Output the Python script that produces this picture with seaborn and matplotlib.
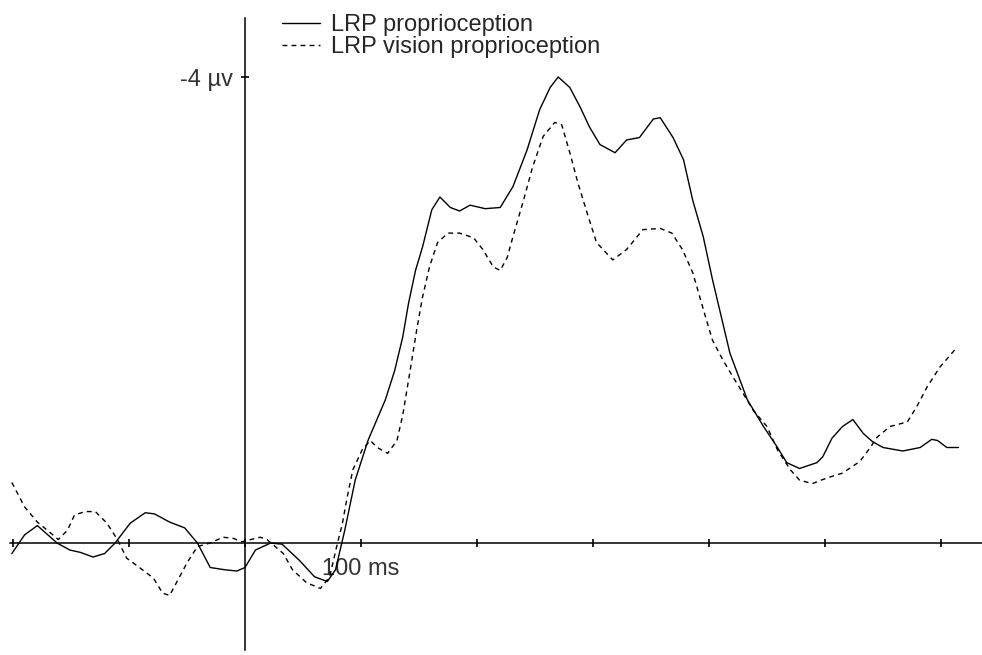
import matplotlib
matplotlib.use('Agg')
import matplotlib.pyplot as plt
import seaborn as sns
import pandas as pd

sns.set_style('white')
plt.rcParams['font.family'] = ['Liberation Sans', 'DejaVu Sans']

# time (ms) and amplitude (µV, negative up)
t_prop = [-201, -190, -179, -162, -151, -142, -131, -121, -112, -99, -86, -78,
          -65, -52, -41, -30, -17, -7, 0, 9, 22, 32, 47, 60, 71, 78, 86, 95,
          106, 121, 129, 136, 141, 147, 153, 161, 168, 177, 185, 194, 207, 220,
          231, 243, 254, 263, 270, 280, 289, 297, 306, 319, 329, 340, 352, 358,
          369, 378, 386, 395, 403, 418, 433, 447, 459, 467, 478, 493, 498, 506,
          515, 524, 533, 541, 550, 567, 582, 592, 597, 605, 615]
v_prop = [0.09, -0.07, -0.15, 0.0, 0.06, 0.08, 0.12, 0.09, 0.0, -0.17, -0.26,
          -0.25, -0.18, -0.13, 0.0, 0.21, 0.23, 0.24, 0.21, 0.06, 0.0, 0.01,
          0.15, 0.29, 0.33, 0.23, -0.11, -0.54, -0.88, -1.23, -1.48, -1.77,
          -2.06, -2.34, -2.54, -2.86, -2.97, -2.88, -2.85, -2.90, -2.87, -2.88,
          -3.06, -3.37, -3.72, -3.91, -4.00, -3.91, -3.74, -3.57, -3.42, -3.35,
          -3.46, -3.48, -3.64, -3.65, -3.48, -3.29, -2.94, -2.63, -2.26, -1.63,
          -1.23, -1.00, -0.82, -0.69, -0.64, -0.69, -0.74, -0.90, -1.00, -1.06,
          -0.94, -0.87, -0.82, -0.79, -0.82, -0.89, -0.88, -0.82, -0.82]

t_vis = [-201, -190, -179, -168, -161, -153, -147, -138, -129, -119, -110,
         -102, -91, -79, -71, -65, -58, -50, -41, -30, -19, -10, -3, 13, 19,
         33, 41, 53, 65, 73, 79, 84, 88, 93, 101, 108, 114, 123, 131, 136, 142,
         148, 153, 159, 166, 175, 185, 197, 205, 214, 220, 226, 231, 240, 248,
         257, 267, 273, 280, 287, 295, 303, 317, 329, 343, 358, 368, 377, 386,
         397, 403, 412, 421, 429, 438, 450, 459, 470, 478, 489, 502, 515, 530,
         539, 545, 556, 571, 579, 588, 599, 612]
v_vis = [-0.52, -0.31, -0.18, -0.09, -0.03, -0.11, -0.24, -0.27, -0.27, -0.17,
         -0.03, 0.13, 0.21, 0.30, 0.43, 0.45, 0.32, 0.17, 0.03, 0.0, -0.05,
         -0.04, -0.01, -0.05, -0.03, 0.09, 0.23, 0.34, 0.39, 0.29, 0.03, -0.17,
         -0.39, -0.63, -0.80, -0.88, -0.82, -0.77, -0.88, -1.10, -1.46, -1.83,
         -2.11, -2.37, -2.58, -2.66, -2.66, -2.62, -2.52, -2.37, -2.34, -2.45,
         -2.63, -2.94, -3.23, -3.49, -3.61, -3.59, -3.35, -3.09, -2.83, -2.58,
         -2.43, -2.52, -2.69, -2.70, -2.66, -2.52, -2.32, -1.94, -1.74, -1.57,
         -1.42, -1.29, -1.14, -1.00, -0.80, -0.63, -0.54, -0.51, -0.56, -0.60,
         -0.70, -0.82, -0.91, -1.00, -1.04, -1.17, -1.34, -1.51, -1.66]

labels = ['LRP proprioception', 'LRP vision proprioception']
x_ticks = [-200, -100, 0, 100, 200, 300, 400, 500, 600]
x_ticklabels = ['', '', '', '100 ms', '', '', '', '', '']

df = pd.concat([
    pd.DataFrame({'time': t_prop, 'amp': v_prop, 'cond': labels[0]}),
    pd.DataFrame({'time': t_vis, 'amp': v_vis, 'cond': labels[1]}),
])

fig = plt.figure(figsize=(9.82, 6.55), dpi=100)
ax = fig.add_axes([0, 0, 1, 1])

sns.lineplot(data=df, x='time', y='amp', style='cond', color='black',
             dashes={labels[0]: '', labels[1]: (3.5, 3)}, estimator=None,
             sort=False, linewidth=1.0, ax=ax)

ax.set_xlim(-211.2, 635.3)
ax.set_ylim(0.961, -4.661)

# axes crossing at the origin
for side in ['top', 'right']:
    ax.spines[side].set_visible(False)
ax.spines['left'].set_position(('data', 0))
ax.spines['bottom'].set_position(('data', 0))
ax.spines['left'].set_bounds(-4.51, 0.92)
ax.spines['bottom'].set_bounds(-202.6, 635.3)
for side in ['left', 'bottom']:
    ax.spines[side].set_color('black')
    ax.spines[side].set_linewidth(1.1)

ax.set_xticks(x_ticks)
ax.set_xticklabels(x_ticklabels)
ax.set_yticks([-4])
ax.set_yticklabels(['-4 µv'])
ax.tick_params(axis='both', direction='inout', length=6, width=1.2,
               colors='black', labelsize=17, labelcolor='#333333',
               bottom=True, left=True)
ax.tick_params(axis='x', pad=8)
ax.tick_params(axis='y', pad=6)
ax.set_xlabel('')
ax.set_ylabel('')

ax.legend(loc='upper left', bbox_to_anchor=(0.287, 0.978), frameon=False,
          fontsize=17, handlelength=1.6, handletextpad=0.5, labelspacing=0.0,
          borderpad=0, borderaxespad=0, title=None)

fig.savefig('out.png', dpi=100)
